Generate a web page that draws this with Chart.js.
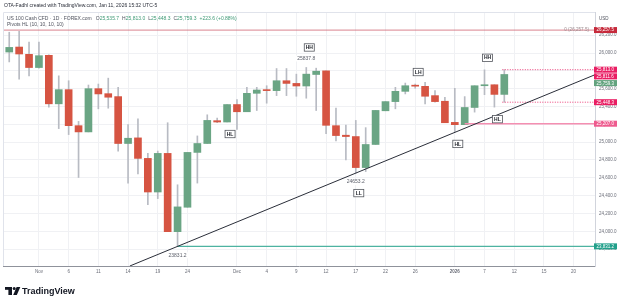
<!DOCTYPE html>
<html>
<head>
<meta charset="utf-8">
<script src="https://cdn.jsdelivr.net/npm/chart.js@4.4.1/dist/chart.umd.min.js"></script>
<style>
  html, body { margin: 0; padding: 0; background: #fff; }
  canvas { display: block; }
</style>
</head>
<body>
<canvas id="chart" width="625" height="304"></canvas>
<script>
// trading days shown on the x axis (last 9 are empty future space)
var days = [
  "Oct 29", "Oct 30", "Oct 31", "Nov 3", "Nov 4", "Nov 5", "Nov 6", "Nov 7", "Nov 10", "Nov 11",
  "Nov 12", "Nov 13", "Nov 14", "Nov 17", "Nov 18", "Nov 19", "Nov 20", "Nov 21", "Nov 24", "Nov 25",
  "Nov 26", "Nov 27", "Nov 28", "Dec 1", "Dec 2", "Dec 3", "Dec 4", "Dec 5", "Dec 8", "Dec 9",
  "Dec 10", "Dec 11", "Dec 12", "Dec 15", "Dec 16", "Dec 17", "Dec 18", "Dec 19", "Dec 22", "Dec 23",
  "Dec 24", "Dec 26", "Dec 29", "Dec 30", "Dec 31", "Jan 2", "Jan 5", "Jan 6", "Jan 7", "Jan 8",
  "Jan 9", "Jan 12", "Jan 13", "Jan 14", "Jan 15", "Jan 16", "Jan 19", "Jan 20", "Jan 21", "Jan 22"
];

var opens = [
  26011, 26067, 25985, 25837, 25974, 25430, 25589, 25185, 25115, 25600,
  25544, 25511, 24985, 25048, 24818, 24441, 24874, 23996, 24270, 24885,
  24985, 25241, 25226, 25422, 25341, 25548, 25589, 25578, 25689, 25659,
  25630, 25759, 25800, 25185, 25078, 25063, 24715, 24974, 25352, 25455,
  25570, 25632, 25626, 25522, 25459, 25222, 25196, 25389, 25633, 25644,
  25535.7
];
var highs = [
  26233, 26244, 26122, 26122, 25980, 25744, 25689, 25233, 25641, 25652,
  25718, 25615, 25196, 25263, 24874, 24900, 25218, 24522, 24885, 25070,
  25307, 25270, 25422, 25478, 25615, 25615, 25633, 25826, 25826, 25763,
  25837.8, 25830, 25800, 25381, 25193, 25244, 25163, 25356, 25455, 25615,
  25663, 25652, 25670, 25578, 25504, 25604, 25511, 25633, 25811.6, 25644,
  25813.0
];
var lows = [
  25900, 25707, 25744, 25830, 25393, 25152, 25085, 24604, 25115, 25374,
  25381, 24900, 24541, 24644, 24300, 24367, 23996, 23831.2, 24270, 24541,
  24985, 25218, 25226, 25144, 25341, 25355, 25437, 25522, 25522, 25515,
  25493, 25355, 25096, 25015, 24800, 24653.2, 24670, 24974, 25352, 25374,
  25541, 25604, 25430, 25448, 25218, 25115, 25196, 25337, 25533, 25393,
  25448.3
];
var closes = [
  26063, 25989, 25837, 25970, 25430, 25589, 25185, 25115, 25600, 25541,
  25504, 24985, 25044, 24818, 24441, 24874, 23996, 24274, 24885, 24985,
  25244, 25226, 25422, 25341, 25548, 25585, 25578, 25689, 25659, 25630,
  25763, 25796, 25189, 25074, 25063, 24715, 24974, 25356, 25455, 25570,
  25633, 25628, 25515, 25455, 25218, 25196, 25389, 25633, 25644, 25535.7,
  25759.3
];

var tickDays = ["Nov 3", "Nov 6", "Nov 11", "Nov 14", "Nov 19", "Nov 24", "Dec 1", "Dec 4", "Dec 9",
  "Dec 12", "Dec 17", "Dec 22", "Dec 26", "Jan 2", "Jan 7", "Jan 12", "Jan 15", "Jan 20"];
var tickLabels = ["Nov", "6", "11", "14", "19", "24", "Dec", "4", "9",
  "12", "17", "22", "26", "2026", "7", "12", "15", "20"];
var priceTicks = [23800, 24000, 24200, 24400, 24600, 24800, 25000, 25200, 25400, 25600, 25800, 26000, 26200];

// levels drawn by the pivots indicator
var topLevel = 26257.5;
var swingLow = { day: "Nov 21", value: 23831.2 };
var hlLevel = { day: "Jan 5", value: 25207.0 };
var lastRange = { day: "Jan 9", high: 25813.0, low: 25448.3 };
var trendFrom = { day: "Nov 21", value: 23831.2 };
var trendTo = { day: "Dec 17", value: 24653.2 };

var pivotLabels = [
  { text: "HH", day: "Dec 10", side: "above", showValue: true },
  { text: "HL", day: "Nov 28", side: "below" },
  { text: "LL", day: "Dec 17", side: "below", showValue: true },
  { text: "", day: "Nov 21", side: "below", showValue: true },
  { text: "LH", day: "Dec 26", side: "above" },
  { text: "HL", day: "Jan 2", side: "below" },
  { text: "HH", day: "Jan 7", side: "above" },
  { text: "HL", day: "Jan 8", side: "below" }
];

var priceTags = [
  { value: 26257.5, color: "#c62a3b" },
  { value: 25813.0, color: "#e91e63" },
  { value: 25811.6, color: "#e91e63" },
  { value: 25759.3, color: "#63a37f" },
  { value: 25448.3, color: "#e91e63" },
  { value: 25207.0, color: "#ee5b8e" },
  { value: 23831.2, color: "#22a08b" }
];

var xMin = -0.63, xMax = 59.16;
var yMin = 23611, yMax = 26460;
var green = "#6aa584", red = "#d65442";
var FONT = "'Liberation Sans', Arial, sans-serif";

function idx(d) { return days.indexOf(d); }
function fmt(v) { return v.toLocaleString("en-US", { minimumFractionDigits: 1, maximumFractionDigits: 1 }); }

var wickData = closes.map(function (c, i) { return { x: i, y: [lows[i], highs[i]] }; });
var bodyData = closes.map(function (c, i) { return { x: i, y: [opens[i], c] }; });
var bodyColors = closes.map(function (c, i) { return c >= opens[i] ? green : red; });

var slope = (trendTo.value - trendFrom.value) / (idx(trendTo.day) - idx(trendFrom.day));
var trendStart = idx(trendFrom.day) - (trendFrom.value - yMin) / slope;
var trendEnd = trendFrom.value + slope * (xMax - idx(trendFrom.day));

function hline(x0, v) { return [{ x: x0, y: v }, { x: xMax, y: v }]; }

var overlay = {
  id: "overlay",
  afterDraw: function (chart) {
    var ctx = chart.ctx, a = chart.chartArea;
    var xs = chart.scales.x, ys = chart.scales.y;
    ctx.save();

    // frame
    ctx.strokeStyle = "#e0e3eb";
    ctx.lineWidth = 1;
    ctx.beginPath();
    ctx.moveTo(a.left + 0.5, a.bottom);
    ctx.lineTo(a.left + 0.5, a.top + 0.5);
    ctx.lineTo(a.right, a.top + 0.5);
    ctx.stroke();

    // pivot labels
    ctx.save();
    ctx.beginPath();
    ctx.rect(a.left, a.top, a.right - a.left, a.bottom - a.top);
    ctx.clip();
    ctx.textAlign = "center";
    ctx.textBaseline = "middle";
    pivotLabels.forEach(function (p) {
      var i = idx(p.day);
      var v = p.side === "above" ? highs[i] : lows[i];
      var px = xs.getPixelForValue(i), py = ys.getPixelForValue(v);
      var dir = p.side === "above" ? -1 : 1;
      var boxY = py + dir * (p.showValue ? 20 : 12);
      if (p.showValue) {
        ctx.font = "5px " + FONT;
        var s = String(v.toFixed(1));
        var w = ctx.measureText(s).width;
        var ny = py + dir * 9;
        ctx.fillStyle = "#fff";
        ctx.fillRect(px - w / 2 - 2, ny - 3, w + 4, 6);
        ctx.fillStyle = "#5d606b";
        ctx.fillText(s, px, ny);
      }
      if (!p.text) return;
      ctx.fillStyle = "#fff";
      ctx.fillRect(px - 2, boxY - 3.7, 10, 7.4);
      ctx.strokeStyle = "#55585f";
      ctx.lineWidth = 0.8;
      ctx.strokeRect(px - 2, boxY - 3.7, 10, 7.4);
      ctx.fillStyle = "#1e2128";
      ctx.font = "bold 5px " + FONT;
      ctx.fillText(p.text, px + 3, boxY + 0.3);
    });
    ctx.restore();

    // label on the top level line
    ctx.font = "4.6px " + FONT;
    ctx.textAlign = "right";
    ctx.textBaseline = "middle";
    ctx.fillStyle = "#9a8a8e";
    ctx.fillText("0 (" + fmt(topLevel) + ")", a.right - 6, ys.getPixelForValue(topLevel));

    // price axis tags
    var sorted = priceTags.slice().sort(function (p, q) { return q.value - p.value; });
    var prev = -100;
    ctx.textAlign = "left";
    sorted.forEach(function (t) {
      var y = Math.max(ys.getPixelForValue(t.value), prev + 6.7);
      prev = y;
      ctx.fillStyle = t.color;
      ctx.fillRect(a.right - 1, y - 3, 23, 6);
      ctx.fillStyle = "#fff";
      ctx.font = "4.5px " + FONT;
      ctx.fillText(fmt(t.value), a.right + 1.5, y + 0.2);
    });

    ctx.fillStyle = "#50535e";
    ctx.font = "4.5px " + FONT;
    ctx.fillText("USD", a.right + 4, 19);

    // header
    ctx.fillStyle = "#2a2e39";
    ctx.font = "5px " + FONT;
    ctx.fillText("OTA-Fadhl created with TradingView.com, Jan 11, 2026 15:32 UTC-5", 4, 6);

    // legend
    var lx = 7, ly = 18.5;
    ctx.fillStyle = "#50535e";
    ctx.font = "5px " + FONT;
    var sym = "US 100 Cash CFD \u00b7 1D \u00b7 FOREX.com";
    ctx.fillText(sym, lx, ly);
    lx += ctx.measureText(sym).width + 4;
    var last = closes.length - 1;
    var ohlc = [["O", opens[last]], ["H", highs[last]], ["L", lows[last]], ["C", closes[last]]];
    ohlc.forEach(function (e) {
      ctx.fillStyle = "#50535e";
      ctx.fillText(e[0], lx, ly);
      lx += ctx.measureText(e[0]).width;
      ctx.fillStyle = "#3f9a76";
      var s = fmt(e[1]);
      ctx.fillText(s, lx, ly);
      lx += ctx.measureText(s).width + 3;
    });
    var chg = closes[last] - closes[last - 1];
    ctx.fillStyle = "#3f9a76";
    ctx.fillText("+" + fmt(chg) + " (+" + (chg / closes[last - 1] * 100).toFixed(2) + "%)", lx, ly);
    ctx.fillStyle = "#50535e";
    ctx.fillText("Pivots HL (10, 10, 10, 10)", 7, 25);

    // TradingView logo
    ctx.fillStyle = "#131722";
    ctx.fillRect(5, 287, 7, 2.8);
    ctx.fillRect(8.4, 287, 3.6, 8);
    ctx.beginPath();
    ctx.arc(14.2, 288.5, 1.5, 0, Math.PI * 2);
    ctx.fill();
    ctx.beginPath();
    ctx.moveTo(16.6, 287); ctx.lineTo(20.3, 287); ctx.lineTo(16.8, 295); ctx.lineTo(13.2, 295);
    ctx.closePath();
    ctx.fill();
    ctx.font = "bold 9px " + FONT;
    ctx.textBaseline = "middle";
    ctx.fillText("TradingView", 22, 291.5);

    ctx.restore();
  }
};

var ctx = document.getElementById("chart").getContext("2d");
var chart = new Chart(ctx, {
  type: "bar",
  data: {
    datasets: [
      { type: "line", data: [{ x: trendStart, y: yMin }, { x: xMax, y: trendEnd }], borderColor: "#2a2e39", borderWidth: 1, pointRadius: 0, order: 0 },
      { type: "line", data: hline(xMin, topLevel), borderColor: "rgba(205,90,105,0.6)", borderWidth: 1.3, pointRadius: 0, order: 1 },
      { type: "line", data: hline(idx(swingLow.day), swingLow.value), borderColor: "#4db3a1", borderWidth: 1.2, pointRadius: 0, order: 1 },
      { type: "line", data: hline(idx(hlLevel.day), hlLevel.value), borderColor: "#f48fb1", borderWidth: 1.6, pointRadius: 0, order: 1 },
      { type: "line", data: hline(idx(lastRange.day) - 0.2, lastRange.high), borderColor: "#ec407a", borderWidth: 1, borderDash: [1, 1.5], pointRadius: 0, order: 1 },
      { type: "line", data: hline(idx(lastRange.day) - 0.2, lastRange.low), borderColor: "#ec407a", borderWidth: 1, borderDash: [1, 1.5], pointRadius: 0, order: 1 },
      { data: bodyData, backgroundColor: bodyColors, barThickness: 7, minBarLength: 1, grouped: false, order: 2 },
      { data: wickData, backgroundColor: "#b8bbc3", barThickness: 1, grouped: false, order: 3 }
    ]
  },
  options: {
    responsive: false,
    animation: false,
    layout: { padding: { left: 3, top: 12, right: 0, bottom: 0 } },
    plugins: { legend: { display: false }, tooltip: { enabled: false } },
    scales: {
      x: {
        type: "linear",
        min: xMin,
        max: xMax,
        offset: false,
        afterBuildTicks: function (s) { s.ticks = tickDays.map(function (d) { return { value: idx(d) }; }); },
        afterFit: function (s) { s.height = 38; },
        ticks: {
          autoSkip: false,
          maxRotation: 0,
          padding: 3,
          color: "#6a6d78",
          font: function (c) { return { family: FONT, size: 4.5, weight: c.tick && c.tick.label === "2026" ? "bold" : "normal" }; },
          callback: function (v, i) { return tickLabels[i]; }
        },
        grid: { color: "#f0f1f4", drawTicks: false, offset: false },
        border: { color: "#8f929b" }
      },
      y: {
        position: "right",
        min: yMin,
        max: yMax,
        afterBuildTicks: function (s) { s.ticks = priceTicks.map(function (v) { return { value: v }; }); },
        afterFit: function (s) { s.width = 30; },
        ticks: {
          padding: 4,
          color: "#6a6d78",
          font: { family: FONT, size: 4.5 },
          callback: function (v) { return fmt(v); }
        },
        grid: { color: "#f0f1f4", drawTicks: false },
        border: { color: "#d1d4dc" }
      }
    }
  },
  plugins: [overlay]
});
</script>
</body>
</html>
